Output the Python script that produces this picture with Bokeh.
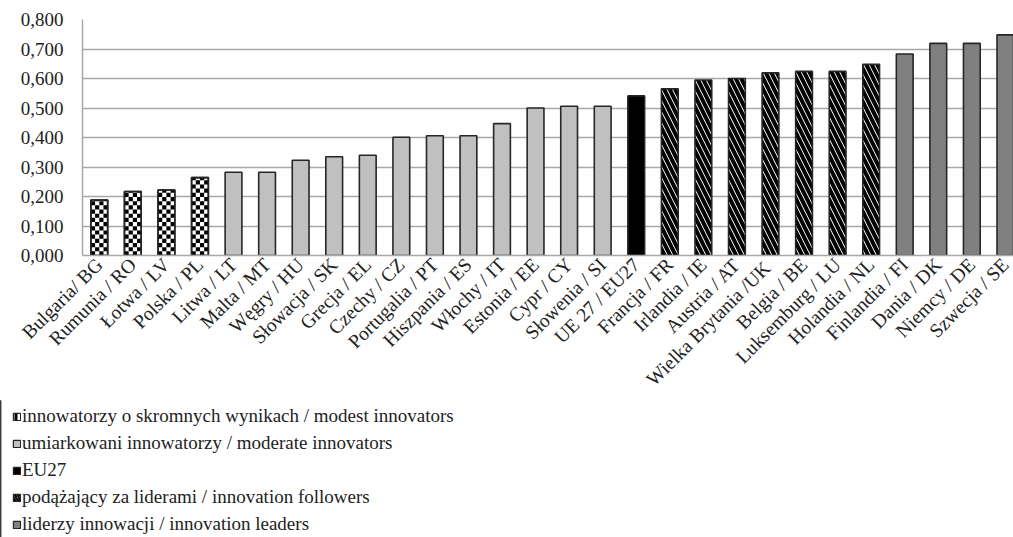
from bokeh.plotting import figure
from bokeh.layouts import column
from bokeh.models import (ColumnDataSource, FixedTicker, CustomJSTickFormatter, Range1d,
                          Legend, LegendItem)
from bokeh.embed import file_html
from bokeh.resources import INLINE
from math import pi

labels = ["Bulgaria/ BG", "Rumunia / RO", "Łotwa / LV", "Polska / PL", "Litwa / LT", "Malta / MT",
          "Węgry / HU", "Słowacja / SK", "Grecja / EL", "Czechy / CZ", "Portugalia / PT",
          "Hiszpania / ES", "Włochy / IT", "Estonia / EE", "Cypr / CY", "Słowenia / SI",
          "UE 27 / EU27", "Francja / FR", "Irlandia / IE", "Austria / AT", "Wielka Brytania  /UK",
          "Belgia / BE", "Luksemburg / LU", "Holandia / NL", "Finlandia / FI", "Dania / DK",
          "Niemcy / DE", "Szwecja / SE"]
values = [0.188, 0.217, 0.222, 0.264, 0.282, 0.282, 0.323, 0.335, 0.340, 0.401, 0.406,
          0.406, 0.447, 0.500, 0.506, 0.506, 0.541, 0.565, 0.595, 0.600, 0.619, 0.624,
          0.624, 0.648, 0.683, 0.719, 0.719, 0.748]
groups = ["modest"] * 4 + ["moderate"] * 12 + ["eu"] + ["follower"] * 7 + ["leader"] * 4

group_order = ["modest", "moderate", "eu", "follower", "leader"]
group_names = {
    "modest": "innowatorzy o skromnych wynikach / modest innovators",
    "moderate": "umiarkowani innowatorzy / moderate innovators",
    "eu": "EU27",
    "follower": "podążający za liderami / innovation followers",
    "leader": "liderzy innowacji / innovation leaders",
}
y_ticks = [0.0, 0.1, 0.2, 0.3, 0.4, 0.5, 0.6, 0.7, 0.8]

FONT = "'Liberation Serif', 'Times New Roman', serif"
n = len(labels)
unit = 33.56            # px per category
frame_w = 1013 - 82
frame_h = 256 - 19
BAR_W = 0.5

styles = {
    "modest": dict(fill_color="white"),
    "moderate": dict(fill_color="#c0c0c0"),
    "eu": dict(fill_color="black"),
    "follower": dict(fill_color="white", hatch_pattern="left_diagonal_line", hatch_color="black",
                     hatch_scale=11, hatch_weight=4),
    "leader": dict(fill_color="#808080"),
}

TOP_H = 400
p = figure(width=1013, height=TOP_H, output_backend="svg", toolbar_location=None,
           x_range=Range1d(-0.5, -0.5 + frame_w / unit), y_range=Range1d(0, 0.8),
           min_border_left=82, min_border_right=0, min_border_top=19,
           min_border_bottom=TOP_H - 256)
p.frame_align = False
p.outline_line_color = None
p.background_fill_color = "white"
p.border_fill_color = "white"

p.xgrid.grid_line_color = None
p.ygrid.grid_line_color = "#a8a8a8"
p.ygrid.grid_line_width = 1.5

for g in group_order:
    idx = [i for i, gg in enumerate(groups) if gg == g]
    src = ColumnDataSource(dict(x=idx, top=[values[i] for i in idx]))
    p.vbar(x="x", top="top", bottom=0, width=BAR_W, source=src,
           line_color="#262626", line_width=1.6, **styles[g])

# checkerboard fill for the "modest innovators" bars, derived from their values
ncol = 4
cell_x = BAR_W / ncol
cell_y = 4.2 * 0.8 / frame_h
cl, cr, cb, ct = [], [], [], []
for i, (v, g) in enumerate(zip(values, groups)):
    if g != "modest":
        continue
    nrow = int(v / cell_y) + 1
    for r in range(nrow):
        for c in range(ncol):
            if (r + c) % 2 == 0:
                b = r * cell_y
                if b >= v:
                    continue
                cl.append(i - BAR_W / 2 + c * cell_x)
                cr.append(i - BAR_W / 2 + (c + 1) * cell_x)
                cb.append(b)
                ct.append(min(b + cell_y, v))
p.quad(left=cl, right=cr, bottom=cb, top=ct, fill_color="black", line_color=None)
idx_m = [i for i, gg in enumerate(groups) if gg == "modest"]
p.vbar(x=idx_m, top=[values[i] for i in idx_m], bottom=0, width=BAR_W, fill_color=None,
       line_color="#262626", line_width=1.6)

p.yaxis.ticker = FixedTicker(ticks=y_ticks)
p.yaxis.formatter = CustomJSTickFormatter(code="return tick.toFixed(3).replace('.', ',');")
p.yaxis.axis_line_color = "#a8a8a8"
p.yaxis.axis_line_width = 1.5
p.yaxis.major_tick_line_color = None
p.yaxis.minor_tick_line_color = None
p.yaxis.major_tick_out = 0
p.yaxis.major_label_standoff = 19
p.yaxis.major_label_text_font = FONT
p.yaxis.major_label_text_font_size = "19px"
p.yaxis.major_label_text_color = "#222222"

p.xaxis.ticker = FixedTicker(ticks=list(range(n)))
p.xaxis.major_label_overrides = {i: lab for i, lab in enumerate(labels)}
p.xaxis.major_label_orientation = pi / 4
p.xaxis.axis_line_color = "#a8a8a8"
p.xaxis.axis_line_width = 1.5
p.xaxis.major_tick_line_color = None
p.xaxis.minor_tick_line_color = None
p.xaxis.major_tick_out = 0
p.xaxis.major_label_standoff = 6
p.xaxis.major_label_text_font = FONT
p.xaxis.major_label_text_font_size = "19.5px"
p.xaxis.major_label_text_color = "#222222"

# legend panel (separate figure below the chart)
LEG_H = 537 - TOP_H
q = figure(width=1013, height=LEG_H, output_backend="svg", toolbar_location=None,
           x_range=Range1d(0, 1), y_range=Range1d(0, 1), x_axis_type=None, y_axis_type=None,
           min_border=0)
q.frame_align = False
q.outline_line_color = None
q.grid.grid_line_color = None
legend_styles = dict(styles)
legend_styles["modest"] = dict(fill_color="white", hatch_pattern="vertical_line",
                               hatch_color="black", hatch_scale=6, hatch_weight=3)
legend_styles["follower"] = dict(fill_color="white", hatch_pattern="left_diagonal_line",
                                 hatch_color="black", hatch_scale=5, hatch_weight=2)
items = []
for g in group_order:
    # legend swatches only: placed outside the visible range of this panel
    r = q.vbar(x=[-10], top=[1], bottom=0, width=0.5, line_color="#262626", line_width=1.2,
               **legend_styles[g])
    items.append(LegendItem(label=group_names[g], renderers=[r]))

legend = Legend(items=items, location=(12, 2), orientation="vertical",
                label_text_font=FONT, label_text_font_size="19px", label_text_color="#222222",
                glyph_width=9, glyph_height=9, label_height=21, spacing=5,
                label_standoff=1, padding=0, margin=0, border_line_color=None,
                background_fill_alpha=0)
q.add_layout(legend, "center")

layout = column(p, q, spacing=0)
open("out.html", "w").write(file_html(layout, INLINE))
